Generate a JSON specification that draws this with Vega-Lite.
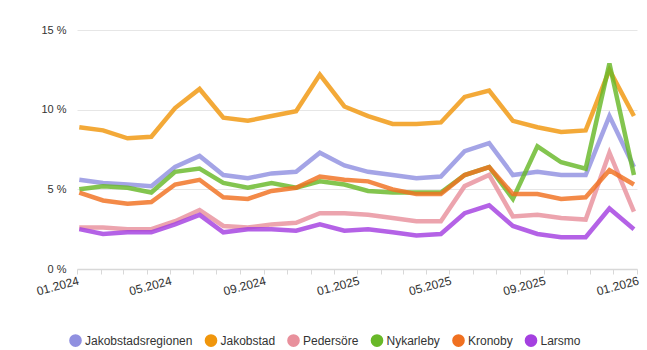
{
  "$schema": "https://vega.github.io/schema/vega-lite/v6.json",
  "autosize": "none",
  "width": 560,
  "height": 239,
  "padding": {"left": 77, "top": 30, "right": 10, "bottom": 81},
  "background": "white",
  "config": {
    "view": {"stroke": null},
    "font": "Liberation Sans",
    "axis": {"labelFont": "Liberation Sans", "labelFontSize": 11, "labelColor": "#333333"},
    "legend": {"labelFont": "Liberation Sans", "labelFontSize": 12, "labelColor": "#333333", "padding": 0}
  },
  "data": {
    "values": [
      {"date": "2024-01-04T00:00:00", "region": "Jakobstadsregionen", "value": 5.6},
      {"date": "2024-02-04T00:00:00", "region": "Jakobstadsregionen", "value": 5.4},
      {"date": "2024-03-07T00:00:00", "region": "Jakobstadsregionen", "value": 5.3},
      {"date": "2024-04-07T00:00:00", "region": "Jakobstadsregionen", "value": 5.2},
      {"date": "2024-05-08T00:00:00", "region": "Jakobstadsregionen", "value": 6.4},
      {"date": "2024-06-09T00:00:00", "region": "Jakobstadsregionen", "value": 7.1},
      {"date": "2024-07-10T00:00:00", "region": "Jakobstadsregionen", "value": 5.9},
      {"date": "2024-08-11T00:00:00", "region": "Jakobstadsregionen", "value": 5.7},
      {"date": "2024-09-11T00:00:00", "region": "Jakobstadsregionen", "value": 6.0},
      {"date": "2024-10-13T00:00:00", "region": "Jakobstadsregionen", "value": 6.1},
      {"date": "2024-11-13T00:00:00", "region": "Jakobstadsregionen", "value": 7.3},
      {"date": "2024-12-15T00:00:00", "region": "Jakobstadsregionen", "value": 6.5},
      {"date": "2025-01-15T00:00:00", "region": "Jakobstadsregionen", "value": 6.1},
      {"date": "2025-02-16T00:00:00", "region": "Jakobstadsregionen", "value": 5.9},
      {"date": "2025-03-19T00:00:00", "region": "Jakobstadsregionen", "value": 5.7},
      {"date": "2025-04-20T00:00:00", "region": "Jakobstadsregionen", "value": 5.8},
      {"date": "2025-05-21T00:00:00", "region": "Jakobstadsregionen", "value": 7.4},
      {"date": "2025-06-22T00:00:00", "region": "Jakobstadsregionen", "value": 7.9},
      {"date": "2025-07-23T00:00:00", "region": "Jakobstadsregionen", "value": 5.9},
      {"date": "2025-08-24T00:00:00", "region": "Jakobstadsregionen", "value": 6.1},
      {"date": "2025-09-24T00:00:00", "region": "Jakobstadsregionen", "value": 5.9},
      {"date": "2025-10-26T00:00:00", "region": "Jakobstadsregionen", "value": 5.9},
      {"date": "2025-11-26T00:00:00", "region": "Jakobstadsregionen", "value": 9.6},
      {"date": "2025-12-28T00:00:00", "region": "Jakobstadsregionen", "value": 6.4},
      {"date": "2024-01-04T00:00:00", "region": "Jakobstad", "value": 8.9},
      {"date": "2024-02-04T00:00:00", "region": "Jakobstad", "value": 8.7},
      {"date": "2024-03-07T00:00:00", "region": "Jakobstad", "value": 8.2},
      {"date": "2024-04-07T00:00:00", "region": "Jakobstad", "value": 8.3},
      {"date": "2024-05-08T00:00:00", "region": "Jakobstad", "value": 10.1},
      {"date": "2024-06-09T00:00:00", "region": "Jakobstad", "value": 11.3},
      {"date": "2024-07-10T00:00:00", "region": "Jakobstad", "value": 9.5},
      {"date": "2024-08-11T00:00:00", "region": "Jakobstad", "value": 9.3},
      {"date": "2024-09-11T00:00:00", "region": "Jakobstad", "value": 9.6},
      {"date": "2024-10-13T00:00:00", "region": "Jakobstad", "value": 9.9},
      {"date": "2024-11-13T00:00:00", "region": "Jakobstad", "value": 12.2},
      {"date": "2024-12-15T00:00:00", "region": "Jakobstad", "value": 10.2},
      {"date": "2025-01-15T00:00:00", "region": "Jakobstad", "value": 9.6},
      {"date": "2025-02-16T00:00:00", "region": "Jakobstad", "value": 9.1},
      {"date": "2025-03-19T00:00:00", "region": "Jakobstad", "value": 9.1},
      {"date": "2025-04-20T00:00:00", "region": "Jakobstad", "value": 9.2},
      {"date": "2025-05-21T00:00:00", "region": "Jakobstad", "value": 10.8},
      {"date": "2025-06-22T00:00:00", "region": "Jakobstad", "value": 11.2},
      {"date": "2025-07-23T00:00:00", "region": "Jakobstad", "value": 9.3},
      {"date": "2025-08-24T00:00:00", "region": "Jakobstad", "value": 8.9},
      {"date": "2025-09-24T00:00:00", "region": "Jakobstad", "value": 8.6},
      {"date": "2025-10-26T00:00:00", "region": "Jakobstad", "value": 8.7},
      {"date": "2025-11-26T00:00:00", "region": "Jakobstad", "value": 12.5},
      {"date": "2025-12-28T00:00:00", "region": "Jakobstad", "value": 9.6},
      {"date": "2024-01-04T00:00:00", "region": "Pedersöre", "value": 2.6},
      {"date": "2024-02-04T00:00:00", "region": "Pedersöre", "value": 2.6},
      {"date": "2024-03-07T00:00:00", "region": "Pedersöre", "value": 2.5},
      {"date": "2024-04-07T00:00:00", "region": "Pedersöre", "value": 2.5},
      {"date": "2024-05-08T00:00:00", "region": "Pedersöre", "value": 3.0},
      {"date": "2024-06-09T00:00:00", "region": "Pedersöre", "value": 3.7},
      {"date": "2024-07-10T00:00:00", "region": "Pedersöre", "value": 2.7},
      {"date": "2024-08-11T00:00:00", "region": "Pedersöre", "value": 2.6},
      {"date": "2024-09-11T00:00:00", "region": "Pedersöre", "value": 2.8},
      {"date": "2024-10-13T00:00:00", "region": "Pedersöre", "value": 2.9},
      {"date": "2024-11-13T00:00:00", "region": "Pedersöre", "value": 3.5},
      {"date": "2024-12-15T00:00:00", "region": "Pedersöre", "value": 3.5},
      {"date": "2025-01-15T00:00:00", "region": "Pedersöre", "value": 3.4},
      {"date": "2025-02-16T00:00:00", "region": "Pedersöre", "value": 3.2},
      {"date": "2025-03-19T00:00:00", "region": "Pedersöre", "value": 3.0},
      {"date": "2025-04-20T00:00:00", "region": "Pedersöre", "value": 3.0},
      {"date": "2025-05-21T00:00:00", "region": "Pedersöre", "value": 5.2},
      {"date": "2025-06-22T00:00:00", "region": "Pedersöre", "value": 5.9},
      {"date": "2025-07-23T00:00:00", "region": "Pedersöre", "value": 3.3},
      {"date": "2025-08-24T00:00:00", "region": "Pedersöre", "value": 3.4},
      {"date": "2025-09-24T00:00:00", "region": "Pedersöre", "value": 3.2},
      {"date": "2025-10-26T00:00:00", "region": "Pedersöre", "value": 3.1},
      {"date": "2025-11-26T00:00:00", "region": "Pedersöre", "value": 7.3},
      {"date": "2025-12-28T00:00:00", "region": "Pedersöre", "value": 3.6},
      {"date": "2024-01-04T00:00:00", "region": "Nykarleby", "value": 5.0},
      {"date": "2024-02-04T00:00:00", "region": "Nykarleby", "value": 5.2},
      {"date": "2024-03-07T00:00:00", "region": "Nykarleby", "value": 5.1},
      {"date": "2024-04-07T00:00:00", "region": "Nykarleby", "value": 4.8},
      {"date": "2024-05-08T00:00:00", "region": "Nykarleby", "value": 6.1},
      {"date": "2024-06-09T00:00:00", "region": "Nykarleby", "value": 6.3},
      {"date": "2024-07-10T00:00:00", "region": "Nykarleby", "value": 5.4},
      {"date": "2024-08-11T00:00:00", "region": "Nykarleby", "value": 5.1},
      {"date": "2024-09-11T00:00:00", "region": "Nykarleby", "value": 5.4},
      {"date": "2024-10-13T00:00:00", "region": "Nykarleby", "value": 5.1},
      {"date": "2024-11-13T00:00:00", "region": "Nykarleby", "value": 5.5},
      {"date": "2024-12-15T00:00:00", "region": "Nykarleby", "value": 5.3},
      {"date": "2025-01-15T00:00:00", "region": "Nykarleby", "value": 4.9},
      {"date": "2025-02-16T00:00:00", "region": "Nykarleby", "value": 4.8},
      {"date": "2025-03-19T00:00:00", "region": "Nykarleby", "value": 4.8},
      {"date": "2025-04-20T00:00:00", "region": "Nykarleby", "value": 4.8},
      {"date": "2025-05-21T00:00:00", "region": "Nykarleby", "value": 5.9},
      {"date": "2025-06-22T00:00:00", "region": "Nykarleby", "value": 6.4},
      {"date": "2025-07-23T00:00:00", "region": "Nykarleby", "value": 4.4},
      {"date": "2025-08-24T00:00:00", "region": "Nykarleby", "value": 7.7},
      {"date": "2025-09-24T00:00:00", "region": "Nykarleby", "value": 6.7},
      {"date": "2025-10-26T00:00:00", "region": "Nykarleby", "value": 6.3},
      {"date": "2025-11-26T00:00:00", "region": "Nykarleby", "value": 12.9},
      {"date": "2025-12-28T00:00:00", "region": "Nykarleby", "value": 5.9},
      {"date": "2024-01-04T00:00:00", "region": "Kronoby", "value": 4.8},
      {"date": "2024-02-04T00:00:00", "region": "Kronoby", "value": 4.3},
      {"date": "2024-03-07T00:00:00", "region": "Kronoby", "value": 4.1},
      {"date": "2024-04-07T00:00:00", "region": "Kronoby", "value": 4.2},
      {"date": "2024-05-08T00:00:00", "region": "Kronoby", "value": 5.3},
      {"date": "2024-06-09T00:00:00", "region": "Kronoby", "value": 5.6},
      {"date": "2024-07-10T00:00:00", "region": "Kronoby", "value": 4.5},
      {"date": "2024-08-11T00:00:00", "region": "Kronoby", "value": 4.4},
      {"date": "2024-09-11T00:00:00", "region": "Kronoby", "value": 4.9},
      {"date": "2024-10-13T00:00:00", "region": "Kronoby", "value": 5.1},
      {"date": "2024-11-13T00:00:00", "region": "Kronoby", "value": 5.8},
      {"date": "2024-12-15T00:00:00", "region": "Kronoby", "value": 5.6},
      {"date": "2025-01-15T00:00:00", "region": "Kronoby", "value": 5.5},
      {"date": "2025-02-16T00:00:00", "region": "Kronoby", "value": 5.0},
      {"date": "2025-03-19T00:00:00", "region": "Kronoby", "value": 4.7},
      {"date": "2025-04-20T00:00:00", "region": "Kronoby", "value": 4.7},
      {"date": "2025-05-21T00:00:00", "region": "Kronoby", "value": 5.9},
      {"date": "2025-06-22T00:00:00", "region": "Kronoby", "value": 6.4},
      {"date": "2025-07-23T00:00:00", "region": "Kronoby", "value": 4.7},
      {"date": "2025-08-24T00:00:00", "region": "Kronoby", "value": 4.7},
      {"date": "2025-09-24T00:00:00", "region": "Kronoby", "value": 4.4},
      {"date": "2025-10-26T00:00:00", "region": "Kronoby", "value": 4.5},
      {"date": "2025-11-26T00:00:00", "region": "Kronoby", "value": 6.2},
      {"date": "2025-12-28T00:00:00", "region": "Kronoby", "value": 5.3},
      {"date": "2024-01-04T00:00:00", "region": "Larsmo", "value": 2.5},
      {"date": "2024-02-04T00:00:00", "region": "Larsmo", "value": 2.2},
      {"date": "2024-03-07T00:00:00", "region": "Larsmo", "value": 2.3},
      {"date": "2024-04-07T00:00:00", "region": "Larsmo", "value": 2.3},
      {"date": "2024-05-08T00:00:00", "region": "Larsmo", "value": 2.8},
      {"date": "2024-06-09T00:00:00", "region": "Larsmo", "value": 3.4},
      {"date": "2024-07-10T00:00:00", "region": "Larsmo", "value": 2.3},
      {"date": "2024-08-11T00:00:00", "region": "Larsmo", "value": 2.5},
      {"date": "2024-09-11T00:00:00", "region": "Larsmo", "value": 2.5},
      {"date": "2024-10-13T00:00:00", "region": "Larsmo", "value": 2.4},
      {"date": "2024-11-13T00:00:00", "region": "Larsmo", "value": 2.8},
      {"date": "2024-12-15T00:00:00", "region": "Larsmo", "value": 2.4},
      {"date": "2025-01-15T00:00:00", "region": "Larsmo", "value": 2.5},
      {"date": "2025-02-16T00:00:00", "region": "Larsmo", "value": 2.3},
      {"date": "2025-03-19T00:00:00", "region": "Larsmo", "value": 2.1},
      {"date": "2025-04-20T00:00:00", "region": "Larsmo", "value": 2.2},
      {"date": "2025-05-21T00:00:00", "region": "Larsmo", "value": 3.5},
      {"date": "2025-06-22T00:00:00", "region": "Larsmo", "value": 4.0},
      {"date": "2025-07-23T00:00:00", "region": "Larsmo", "value": 2.7},
      {"date": "2025-08-24T00:00:00", "region": "Larsmo", "value": 2.2},
      {"date": "2025-09-24T00:00:00", "region": "Larsmo", "value": 2.0},
      {"date": "2025-10-26T00:00:00", "region": "Larsmo", "value": 2.0},
      {"date": "2025-11-26T00:00:00", "region": "Larsmo", "value": 3.8},
      {"date": "2025-12-28T00:00:00", "region": "Larsmo", "value": 2.5}
    ]
  },
  "mark": {"type": "line", "strokeWidth": 4.5, "strokeOpacity": 0.82, "clip": false},
  "encoding": {
    "x": {
      "field": "date",
      "type": "temporal",
      "scale": {"domain": [{"year": 2024, "month": 1, "date": 1}, {"year": 2026, "month": 1, "date": 1}], "nice": false},
      "axis": {
        "title": null,
        "grid": false,
        "tickCount": {"interval": "month", "step": 1},
        "labelExpr": "month(datum.value) % 4 == 0 ? timeFormat(datum.value, '%m.%Y') : ''",
        "labelOverlap": false,
        "labelFontSize": 12,
        "labelAngle": -15,
        "labelAlign": "right",
        "labelBaseline": "top",
        "labelPadding": 1,
        "tickSize": 5,
        "tickColor": "#d8d8d8",
        "domainColor": "#d8d8d8",
        "domainWidth": 1.5
      }
    },
    "y": {
      "field": "value",
      "type": "quantitative",
      "scale": {"domain": [0, 15], "nice": false},
      "axis": {
        "title": null,
        "values": [0, 5, 10, 15],
        "labelExpr": "datum.value + ' %'",
        "domain": false,
        "ticks": false,
        "labelPadding": 11,
        "gridColor": "#e6e6e6",
        "gridWidth": 1
      }
    },
    "color": {
      "field": "region",
      "type": "nominal",
      "sort": ["Jakobstadsregionen", "Jakobstad", "Pedersöre", "Nykarleby", "Kronoby", "Larsmo"],
      "scale": {
        "domain": ["Jakobstadsregionen", "Jakobstad", "Pedersöre", "Nykarleby", "Kronoby", "Larsmo"],
        "range": ["#9090e0", "#f0960c", "#e8909c", "#68b828", "#f07020", "#a440e0"]
      },
      "legend": {
        "title": null,
        "orient": "none",
        "direction": "horizontal",
        "legendX": -8,
        "legendY": 304,
        "symbolType": "circle",
        "symbolSize": 160,
        "labelOffset": 3,
        "columnPadding": 11.5,
        "encode": {
          "symbols": {
            "update": {
              "fill": {"scale": "color", "field": "value"},
              "fillOpacity": {"value": 1},
              "strokeWidth": {"value": 0},
              "opacity": {"value": 1}
            }
          }
        }
      }
    }
  }
}
